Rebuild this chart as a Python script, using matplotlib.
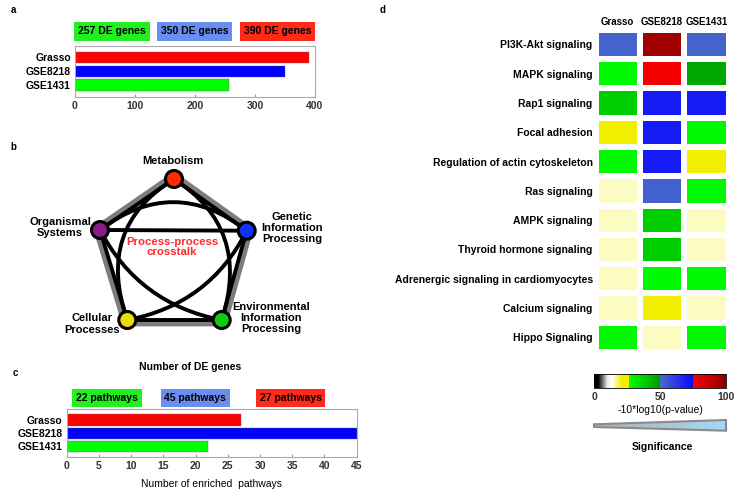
import matplotlib
matplotlib.use('Agg')
import matplotlib.pyplot as plt
import matplotlib.cm as cm
import numpy as np
from matplotlib.colors import LinearSegmentedColormap, Normalize
from matplotlib.path import Path
from matplotlib.patches import PathPatch, Rectangle, Circle, Polygon


plt.rcParams['font.family'] = ['Liberation Sans', 'DejaVu Sans']
plt.rcParams['font.weight'] = 'bold'
plt.rcParams['font.size'] = 7.5

W, H = 743, 492

# data
datasets = ['Grasso', 'GSE8218', 'GSE1431']
de_genes = [390, 350, 257]
enriched_pathways = [27, 45, 22]
bar_colors = ['#ff0000', '#0000ff', '#00ff00']
box_colors = ['#ff2a1a', '#6a8ef0', '#22ee22']

processes = ['Metabolism', 'Genetic\nInformation\nProcessing',
             'Environmental\nInformation\nProcessing', 'Cellular\nProcesses',
             'Organismal\nSystems']
process_colors = ['#ff2a00', '#1030ff', '#10cc10', '#eedd00', '#8a1a8a']

pathways = ['PI3K-Akt signaling', 'MAPK signaling', 'Rap1 signaling',
            'Focal adhesion', 'Regulation of actin cytoskeleton',
            'Ras signaling', 'AMPK signaling', 'Thyroid hormone signaling',
            'Adrenergic signaling in cardiomyocytes', 'Calcium signaling',
            'Hippo Signaling']
# -10*log10(p-value), columns: Grasso, GSE8218, GSE1431
heat_grasso = [52, 28, 38, 24, 28, 15, 15, 15, 15, 15, 28]
heat_gse8218 = [95, 77, 70, 70, 70, 53, 38, 38, 28, 24, 15]
heat_gse1431 = [52, 47, 70, 28, 24, 28, 15, 15, 28, 15, 28]

cmap = LinearSegmentedColormap.from_list('pval', [
    (0.0, '#000000'), (0.03, '#000000'), (0.10, '#e6e6e6'), (0.13, '#ffffff'),
    (0.21, '#f2ee00'), (0.265, '#f0ee00'), (0.265, '#00ff00'),
    (0.5, '#009a00'), (0.5, '#4a6cc8'), (0.75, '#0808ff'),
    (0.75, '#ff0000'), (1.0, '#8b0000')])
norm = Normalize(0, 100)


def px(x0, y0, x1, y1):
    """ pixel box -> figure rect """
    return [x0 / W, 1 - y1 / H, (x1 - x0) / W, (y1 - y0) / H]


def style_bar_axis(ax):
    for s in ax.spines.values():
        s.set_color('#aaaaaa')
        s.set_linewidth(0.8)
    ax.tick_params(axis='x', direction='in', length=2, color='#999999',
                   labelcolor='#333333', pad=3)
    ax.tick_params(axis='y', length=0, pad=3)


fig = plt.figure(figsize=(W / 100, H / 100), dpi=100)

# overlay in pixel coordinates
ov = fig.add_axes([0, 0, 1, 1])
ov.axis('off')

# panel a
axa = fig.add_axes(px(75, 45.7, 315, 96.7))
ypos = np.arange(len(datasets))
axa.barh(ypos, de_genes, height=0.8, color=bar_colors, edgecolor='#666666', linewidth=0.3)
axa.set_xlim(0, 400)
axa.set_ylim(2.84, -0.83)
axa.set_xticks(np.arange(0, 401, 100))
axa.set_yticks(ypos, datasets)
style_bar_axis(axa)

# panel c
axc = fig.add_axes(px(66.7, 409.3, 356.7, 456.7))
axc.barh(ypos, enriched_pathways, height=0.85, color=bar_colors, edgecolor='#666666', linewidth=0.3)
axc.set_xlim(0, 45)
axc.set_ylim(2.79, -0.81)
axc.set_xticks(np.arange(0, 46, 5))
axc.set_yticks(ypos, datasets)
axc.set_xlabel('Number of enriched  pathways', labelpad=6)
style_bar_axis(axc)

# labelled boxes above a and c
box_xa = [(74, 149.7), (157, 231.7), (240, 315.3)]
box_xc = [(72.3, 141.7), (160.7, 230), (256.3, 325.3)]
order = [2, 1, 0]
for (x0, x1), i in zip(box_xa, order):
    ov.add_patch(Rectangle((x0, 21.7), x1 - x0, 19.3, color=box_colors[i], lw=0))
    ov.text((x0 + x1) / 2, 31.5, f'{de_genes[i]} DE genes', ha='center', va='center')
for (x0, x1), i in zip(box_xc, order):
    ov.add_patch(Rectangle((x0, 389), x1 - x0, 18.3, color=box_colors[i], lw=0))
    ov.text((x0 + x1) / 2, 398.3, f'{enriched_pathways[i]} pathways', ha='center', va='center')

ov.text(190, 367.5, 'Number of DE genes', ha='center', va='center')

# panel letters
for letter, (x, y) in zip('abcd', [(13, 10), (13, 147), (15, 373), (383, 10)]):
    ov.text(x, y, letter, ha='center', va='center', fontsize=7)

# panel b network
nodes = np.array([(174, 179), (246.7, 230.7), (221.7, 320), (127.3, 320), (100, 230)])
centre = nodes.mean(axis=0)
shadow = centre + (nodes - centre) * 1.045
ov.add_patch(Polygon(shadow, closed=True, fill=False, edgecolor='#7d7d7d', lw=5, joinstyle='round'))
ov.add_patch(Polygon(nodes, closed=True, fill=False, edgecolor='black', lw=2.8, joinstyle='round'))

arcs = [(4, 1, 0, 1.1), (0, 3, 4, 1.1), (0, 2, 1, 1.1), (3, 1, 2, 0.65), (4, 2, 3, 0.65)]
for a, b, skip, k in arcs:
    mid = (nodes[a] + nodes[b]) / 2
    ctrl = mid + k * (nodes[skip] - mid)
    path = Path([nodes[a], ctrl, nodes[b]], [Path.MOVETO, Path.CURVE3, Path.CURVE3])
    ov.add_patch(PathPatch(path, fill=False, edgecolor='black', lw=2.8))
ov.plot([nodes[4][0], nodes[1][0]], [nodes[4][1], nodes[1][1]], color='black', lw=2.8)

for (x, y), c in zip(nodes, process_colors):
    ov.add_patch(Circle((x, y), 8.5, facecolor=c, edgecolor='black', lw=2.2, zorder=5))

label_pos = [(173, 161), (292, 228), (271, 318), (92, 324), (60, 227.5)]
for (x, y), name in zip(label_pos, processes):
    ov.text(x, y, name, ha='center', va='center', linespacing=1.15, fontsize=8)
ov.text(172, 247, 'Process-process\ncrosstalk', ha='center', va='center',
        color='#ff2a2a', linespacing=1.1, fontsize=8.2)

# panel d heatmap
heat = np.array([heat_grasso, heat_gse8218, heat_gse1431]).T
axd = fig.add_axes(px(595.5, 29.7, 728.5, 352))
axd.pcolormesh(heat, cmap=cmap, norm=norm, edgecolors='white', linewidth=3)
axd.set_xlim(0, 3)
axd.set_ylim(len(pathways), 0)
axd.xaxis.tick_top()
axd.set_xticks(np.arange(3) + 0.5, datasets, fontsize=7)
axd.set_yticks(np.arange(len(pathways)) + 0.5, pathways)
axd.tick_params(length=0, pad=2)
for s in axd.spines.values():
    s.set_visible(False)

# colorbar
cax = fig.add_axes(px(594, 374, 726, 388))
cb = fig.colorbar(cm.ScalarMappable(norm=norm, cmap=cmap), cax=cax, orientation='horizontal')
cb.set_ticks([0, 50, 100])
cb.ax.tick_params(length=0, pad=3, labelcolor='#333333')
cb.set_label('-10*log10(p-value)', labelpad=2)
cb.outline.set_linewidth(0.6)

# significance wedge
wedge = Polygon([(594, 424.3), (726, 420), (726, 430.7), (594, 427)], closed=True,
                facecolor='none', edgecolor='#8a8a8a', lw=1.5)
grad = np.linspace(0, 1, 200)[None, :]
im = ov.imshow(grad, extent=[594, 726, 431, 420], aspect='auto',
               cmap=LinearSegmentedColormap.from_list('sig', ['#b0b0b0', '#a6d8f4']))
ov.add_patch(wedge)
im.set_clip_path(wedge)
ov.text(662.7, 446.7, 'Significance', ha='center', va='center')

ov.set_xlim(0, W)
ov.set_ylim(H, 0)

fig.savefig('out.png', dpi=100)
